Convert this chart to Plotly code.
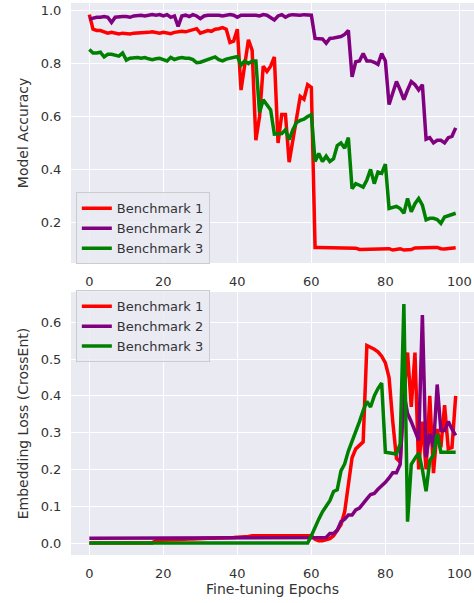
import plotly.graph_objects as go
from plotly.subplots import make_subplots

epochs = list(range(100))
series_names = ["Benchmark 1", "Benchmark 2", "Benchmark 3"]
series_colors = ["red", "purple", "green"]

acc_bench1 = [
    0.985, 0.93, 0.925, 0.925, 0.92, 0.915, 0.918, 0.915, 0.912, 0.915,
    0.913, 0.912, 0.915, 0.915, 0.918, 0.915, 0.918, 0.92, 0.918, 0.915,
    0.918, 0.915, 0.913, 0.918, 0.92, 0.922, 0.92, 0.925, 0.93, 0.932,
    0.915, 0.92, 0.925, 0.922, 0.93, 0.932, 0.936, 0.93, 0.88, 0.885,
    0.93, 0.70, 0.79, 0.89, 0.85, 0.51, 0.60, 0.79, 0.77, 0.79,
    0.825, 0.50, 0.607, 0.607, 0.427, 0.51, 0.60, 0.676, 0.665, 0.72,
    0.71, 0.105, 0.105, 0.105, 0.105, 0.105, 0.104, 0.105, 0.104, 0.102,
    0.103, 0.104, 0.102, 0.097, 0.097, 0.097, 0.097, 0.097, 0.097, 0.097,
    0.097, 0.10, 0.095, 0.097, 0.10, 0.095, 0.095, 0.097, 0.103, 0.104,
    0.104, 0.104, 0.105, 0.105, 0.105, 0.100, 0.099, 0.100, 0.101, 0.104,
]
acc_bench2 = [
    0.968, 0.972, 0.975, 0.975, 0.978, 0.975, 0.955, 0.975, 0.978, 0.978,
    0.978, 0.975, 0.98, 0.983, 0.983, 0.98, 0.983, 0.985, 0.983, 0.985,
    0.98, 0.985, 0.975, 0.98, 0.94, 0.98, 0.983, 0.978, 0.985, 0.98,
    0.97, 0.98, 0.983, 0.983, 0.985, 0.983, 0.98, 0.983, 0.985, 0.983,
    0.975, 0.983, 0.983, 0.985, 0.985, 0.983, 0.98, 0.985, 0.983, 0.975,
    0.965, 0.98, 0.985, 0.975, 0.983, 0.985, 0.983, 0.983, 0.985, 0.983,
    0.983, 0.895, 0.895, 0.893, 0.877, 0.895, 0.897, 0.898, 0.902, 0.91,
    0.925, 0.75, 0.807, 0.81, 0.838, 0.81, 0.81, 0.805, 0.797, 0.838,
    0.81, 0.645, 0.69, 0.732, 0.70, 0.664, 0.70, 0.732, 0.72, 0.70,
    0.72, 0.514, 0.52, 0.50, 0.51, 0.51, 0.50, 0.52, 0.525, 0.557,
]
acc_bench3 = [
    0.853, 0.84, 0.84, 0.843, 0.825, 0.835, 0.835, 0.832, 0.828, 0.84,
    0.813, 0.82, 0.823, 0.823, 0.82, 0.823, 0.818, 0.815, 0.818, 0.82,
    0.815, 0.81, 0.823, 0.815, 0.82, 0.823, 0.82, 0.82, 0.815, 0.803,
    0.805, 0.81, 0.818, 0.82, 0.825, 0.815, 0.81, 0.817, 0.82, 0.825,
    0.827, 0.794, 0.81, 0.80, 0.81, 0.81, 0.615, 0.663, 0.645, 0.625,
    0.533, 0.533, 0.535, 0.55, 0.512, 0.55, 0.577, 0.585, 0.59, 0.60,
    0.607, 0.43, 0.46, 0.43, 0.45, 0.43, 0.44, 0.49, 0.50, 0.48,
    0.52, 0.327, 0.346, 0.34, 0.333, 0.36, 0.40, 0.346, 0.39, 0.385,
    0.42, 0.252, 0.255, 0.26, 0.252, 0.234, 0.29, 0.24, 0.27, 0.29,
    0.265, 0.209, 0.215, 0.215, 0.21, 0.196, 0.22, 0.225, 0.232, 0.234,
]

loss_bench1 = [
    0.0, 0.0, 0.0, 0.0, 0.0, 0.0, 0.0, 0.0, 0.0, 0.0,
    0.0, 0.0, 0.0, 0.0, 0.0, 0.0, 0.0, 0.0, 0.007, 0.008,
    0.008, 0.008, 0.009, 0.009, 0.01, 0.01, 0.01, 0.011, 0.011, 0.012,
    0.012, 0.012, 0.013, 0.013, 0.013, 0.014, 0.014, 0.014, 0.015, 0.015,
    0.016, 0.016, 0.017, 0.018, 0.02, 0.02, 0.02, 0.02, 0.02, 0.02,
    0.02, 0.02, 0.02, 0.02, 0.02, 0.02, 0.02, 0.02, 0.02, 0.02,
    0.02, 0.01, 0.006, 0.006, 0.008, 0.012, 0.02, 0.035, 0.05, 0.085,
    0.168, 0.232, 0.256, 0.265, 0.275, 0.537, 0.533, 0.527, 0.52, 0.508,
    0.49, 0.45, 0.33, 0.23, 0.22, 0.40, 0.518, 0.37, 0.518, 0.20,
    0.33, 0.20, 0.40, 0.19, 0.31, 0.26, 0.375, 0.256, 0.26, 0.40,
]
loss_bench2 = [
    0.013, 0.013, 0.013, 0.013, 0.013, 0.013, 0.013, 0.013, 0.013, 0.013,
    0.013, 0.013, 0.013, 0.013, 0.013, 0.013, 0.013, 0.013, 0.013, 0.013,
    0.014, 0.014, 0.014, 0.014, 0.014, 0.015, 0.015, 0.015, 0.015, 0.015,
    0.015, 0.015, 0.015, 0.015, 0.015, 0.015, 0.015, 0.015, 0.015, 0.015,
    0.015, 0.015, 0.015, 0.015, 0.015, 0.015, 0.015, 0.015, 0.015, 0.015,
    0.015, 0.015, 0.015, 0.015, 0.015, 0.015, 0.015, 0.015, 0.015, 0.015,
    0.015, 0.015, 0.015, 0.015, 0.015, 0.026, 0.026, 0.035, 0.058, 0.065,
    0.076, 0.076, 0.09, 0.095, 0.109, 0.12, 0.132, 0.135, 0.146, 0.155,
    0.165, 0.177, 0.191, 0.191, 0.214, 0.408, 0.352, 0.33, 0.306, 0.279,
    0.62, 0.233, 0.297, 0.26, 0.431, 0.306, 0.306, 0.33, 0.31, 0.293,
]
loss_bench3 = [
    0.0, 0.0, 0.0, 0.0, 0.0, 0.0, 0.0, 0.0, 0.0, 0.0,
    0.0, 0.0, 0.0, 0.0, 0.0, 0.0, 0.0, 0.0, 0.0, 0.0,
    0.0, 0.0, 0.0, 0.0, 0.0, 0.0, 0.0, 0.0, 0.0, 0.0,
    0.0, 0.0, 0.0, 0.0, 0.0, 0.0, 0.0, 0.0, 0.0, 0.0,
    0.0, 0.0, 0.0, 0.0, 0.0, 0.0, 0.0, 0.0, 0.0, 0.0,
    0.0, 0.0, 0.0, 0.0, 0.0, 0.0, 0.0, 0.0, 0.0, 0.0,
    0.02, 0.045, 0.065, 0.085, 0.10, 0.115, 0.14, 0.145, 0.196, 0.215,
    0.25, 0.275, 0.30, 0.33, 0.36, 0.385, 0.37, 0.40, 0.42, 0.435,
    0.247, 0.245, 0.245, 0.242, 0.27, 0.65, 0.058, 0.214, 0.23, 0.245,
    0.20, 0.141, 0.224, 0.24, 0.297, 0.247, 0.247, 0.247, 0.247, 0.247,
]

acc_series = [acc_bench1, acc_bench2, acc_bench3]
loss_series = [loss_bench1, loss_bench2, loss_bench3]

FONT = "DejaVu Sans"
TXT = "#333333"
BG = "#EAEAF2"

fig = make_subplots(rows=2, cols=1, vertical_spacing=0.0)

for name, color, ys in zip(series_names, series_colors, acc_series):
    fig.add_trace(go.Scatter(x=epochs, y=ys, mode="lines", name=name,
                             line=dict(color=color, width=3.5),
                             legend="legend"), row=1, col=1)
for name, color, ys in zip(series_names, series_colors, loss_series):
    fig.add_trace(go.Scatter(x=epochs, y=ys, mode="lines", name=name,
                             line=dict(color=color, width=3.5),
                             legend="legend2"), row=2, col=1)

H = 603
t, b = 3, 48
ph = H - t - b
top_dom = [1 - 260 / ph, 1]
bot_dom = [0, 263 / ph]

axis_common = dict(showgrid=True, gridcolor="white", gridwidth=1.2,
                   zeroline=False, showline=False, automargin=False,
                   ticks="outside", ticklen=6, tickcolor="rgba(0,0,0,0)",
                   tickfont=dict(family=FONT, size=13, color=TXT))

fig.update_xaxes(range=[-4.95, 103.95], tickvals=[0, 20, 40, 60, 80, 100], **axis_common)
fig.update_xaxes(row=2, col=1, title=dict(text="Fine-tuning Epochs", standoff=4,
                 font=dict(family=FONT, size=14, color=TXT)))
fig.update_yaxes(row=1, col=1, domain=top_dom, range=[0.046, 1.029],
                 tickvals=[0.2, 0.4, 0.6, 0.8, 1.0], tickformat=".1f",
                 title=dict(text="Model Accuracy", standoff=8,
                            font=dict(family=FONT, size=14, color=TXT)), **axis_common)
fig.update_yaxes(row=2, col=1, domain=bot_dom, range=[-0.0325, 0.6825],
                 tickvals=[0.0, 0.1, 0.2, 0.3, 0.4, 0.5, 0.6], tickformat=".1f",
                 title=dict(text="Embedding Loss (CrossEnt)", standoff=8,
                            font=dict(family=FONT, size=14, color=TXT)), **axis_common)

legend_style = dict(bgcolor="rgba(234,234,242,0.8)", bordercolor="#CCCCCC", borderwidth=1,
                    font=dict(family=FONT, size=13, color=TXT), itemwidth=30,
                    xanchor="left", tracegroupgap=0)
fig.update_layout(
    width=474, height=H,
    margin=dict(l=71, r=0, t=t, b=b),
    paper_bgcolor="white", plot_bgcolor=BG,
    font=dict(family=FONT, size=13, color=TXT),
    legend=dict(x=0.012, y=top_dom[0] - 0.0025, yanchor="bottom", **legend_style),
    legend2=dict(x=0.012, y=bot_dom[1] + 0.003, yanchor="top", **legend_style),
)

fig.write_html("out.html", config={"displayModeBar": False},
               post_script="document.body.style.margin='0px';document.body.style.overflow='hidden';")
